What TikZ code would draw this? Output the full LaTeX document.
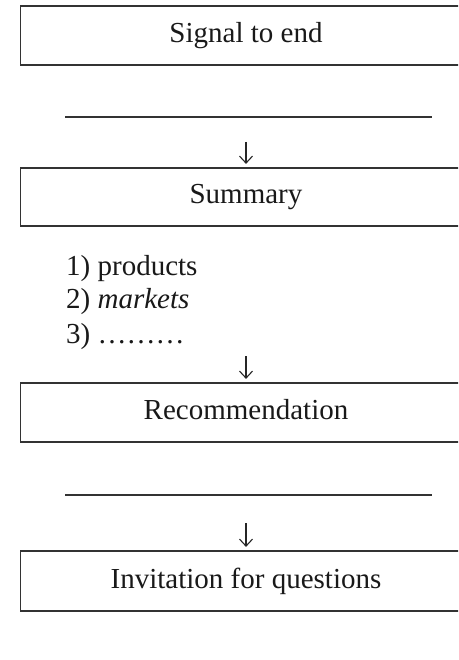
\documentclass[tikz,border=0pt]{standalone}
\usepackage{fontspec}
\setmainfont{Liberation Serif}
\usetikzlibrary{arrows.meta}
\begin{document}
\begin{tikzpicture}[x=1pt,y=-1pt,
  box/.style={draw=black!80, line width=1.2pt, minimum width=450.6pt, inner sep=0pt,
    font=\fontsize{29}{34}\selectfont, text height=20pt, text depth=6pt, text=black!90},
  lbl/.style={anchor=base west, inner sep=0pt, font=\fontsize{29}{34}\selectfont, text=black!90},
  downarrow/.style={draw=black!85, line width=1.1pt, shorten >=3.5pt,
    -{Straight Barb[length=7pt,width=13pt,line width=1.1pt]}},
  blank/.style={draw=black!80, line width=1.3pt}]
\useasboundingbox (0,0) rectangle (458,660);
\clip (0,0) rectangle (458,660);
\fill[white] (0,0) rectangle (458,660);
% boxes
\node[box, minimum height=59pt] (b1) at (246,35.5) {Signal to end};
\node[box, minimum height=58pt] (b2) at (246,197) {Summary};
\node[box, minimum height=59pt] (b3) at (246,412.5) {Recommendation};
\node[box, minimum height=60pt] (b4) at (246,581) {Invitation for questions};
% blank lines
\coordinate (l1a) at (65,117); \coordinate (l1b) at (432,117);
\draw[blank] (l1a) -- (l1b);
\coordinate (l2a) at (65,495); \coordinate (l2b) at (432,495);
\draw[blank] (l2a) -- (l2b);
% list
\node[lbl] (i1) at (66,275) {1) products};
\node[lbl] (i2) at (66,308) {2) \textit{markets}};
\node[lbl] (i3) at (66,343) {3) ………};
% arrows
\coordinate (s1) at (246,142);
\coordinate (s2) at (246,356);
\coordinate (s3) at (246,523);
\draw[downarrow] (s1) -- (b2.north);
\draw[downarrow] (s2) -- (b3.north);
\draw[downarrow] (s3) -- (b4.north);
\end{tikzpicture}
\end{document}
